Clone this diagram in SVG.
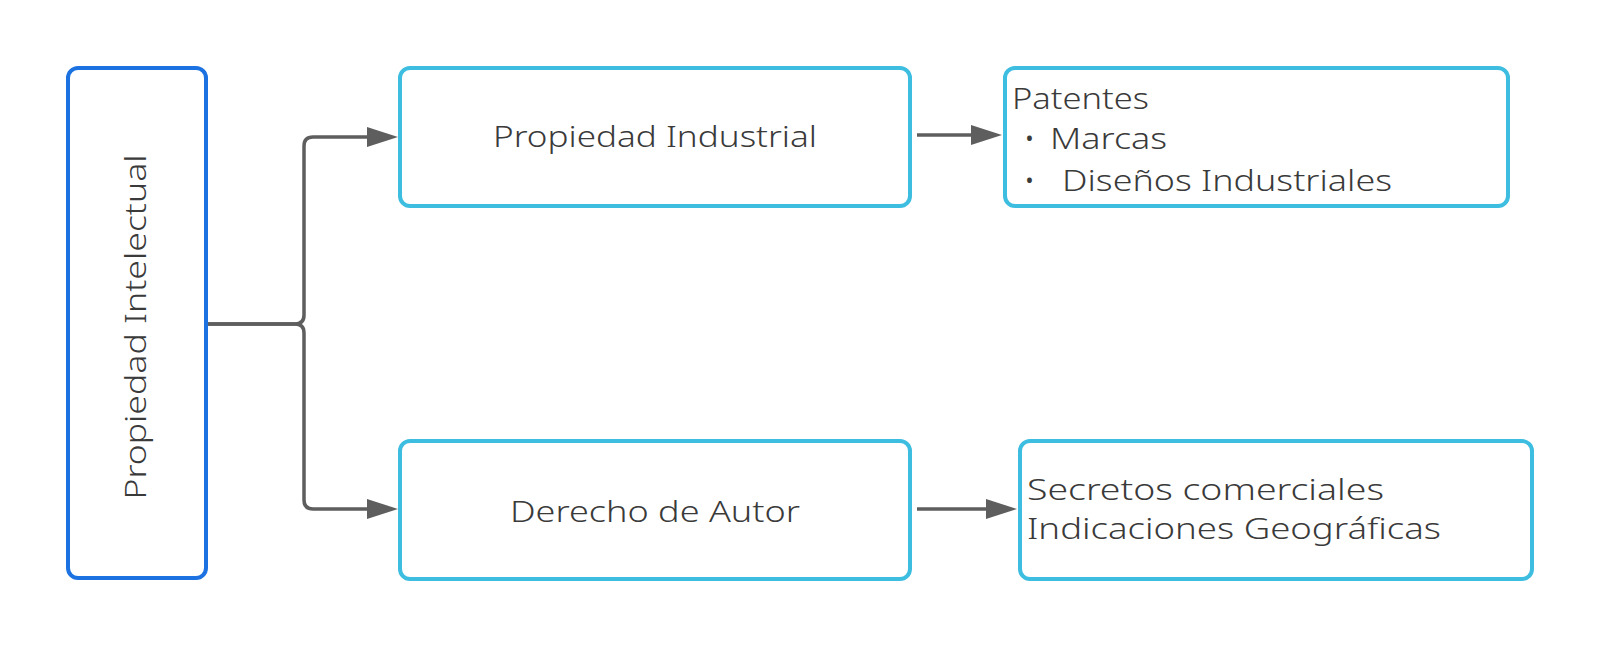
<svg xmlns="http://www.w3.org/2000/svg" width="1600" height="647" viewBox="0 0 1600 647">
  <defs>
    <marker id="arrow" markerUnits="userSpaceOnUse" markerWidth="32" markerHeight="20" refX="2" refY="10" orient="auto">
      <path d="M0,0 L31,10 L0,20 Z" fill="#5e5e5e"/>
    </marker>
    <style>
      .box { fill: #ffffff; stroke-width: 4; }
      .root { stroke: #1d72e2; }
      .leaf { stroke: #3dbde0; }
      .lbl { font-family: "Noto Sans", "Liberation Sans", sans-serif; font-weight: 300; fill: #3a3a3a; }
      .conn { fill: none; stroke: #5e5e5e; stroke-width: 3.5; stroke-linejoin: round; }
    </style>
  </defs>
  <rect width="1600" height="647" fill="#ffffff"/>

  <g id="connectors">
    <path class="conn" d="M206,324 H295 Q304,324 304,315 V146 Q304,137 313,137 H369" marker-end="url(#arrow)"/>
    <path class="conn" d="M206,324 H295 Q304,324 304,333 V500 Q304,509 313,509 H369" marker-end="url(#arrow)"/>
    <path class="conn" d="M917,135 H973" marker-end="url(#arrow)"/>
    <path class="conn" d="M917,509 H988" marker-end="url(#arrow)"/>
  </g>

  <g id="propiedad-intelectual">
    <rect class="box root" x="68" y="68" width="138" height="510" rx="10"/>
    <text class="lbl" font-size="29" text-anchor="middle" textLength="345" lengthAdjust="spacingAndGlyphs" transform="translate(146,327) rotate(-90)">Propiedad Intelectual</text>
  </g>

  <g id="propiedad-industrial">
    <rect class="box leaf" x="400" y="68" width="510" height="138" rx="10"/>
    <text class="lbl" x="655" y="147" font-size="30" text-anchor="middle" textLength="324" lengthAdjust="spacingAndGlyphs">Propiedad Industrial</text>
  </g>

  <g id="derecho-de-autor">
    <rect class="box leaf" x="400" y="441" width="510" height="138" rx="10"/>
    <text class="lbl" x="655" y="522" font-size="30" text-anchor="middle" textLength="290" lengthAdjust="spacingAndGlyphs">Derecho de Autor</text>
  </g>

  <g id="patentes">
    <rect class="box leaf" x="1005" y="68" width="503" height="138" rx="10"/>
    <text class="lbl" font-size="29">
      <tspan x="1012" y="109" textLength="137" lengthAdjust="spacingAndGlyphs">Patentes</tspan>
      <tspan x="1024" y="149">•</tspan><tspan x="1050" y="149" textLength="117" lengthAdjust="spacingAndGlyphs">Marcas</tspan>
      <tspan x="1024" y="191">•</tspan><tspan x="1062" y="191" textLength="330" lengthAdjust="spacingAndGlyphs">Diseños Industriales</tspan>
    </text>
  </g>

  <g id="secretos">
    <rect class="box leaf" x="1020" y="441" width="512" height="138" rx="10"/>
    <text class="lbl" font-size="29">
      <tspan x="1027" y="500" textLength="357" lengthAdjust="spacingAndGlyphs">Secretos comerciales</tspan>
      <tspan x="1027" y="539" textLength="414" lengthAdjust="spacingAndGlyphs">Indicaciones Geográficas</tspan>
    </text>
  </g>
</svg>
